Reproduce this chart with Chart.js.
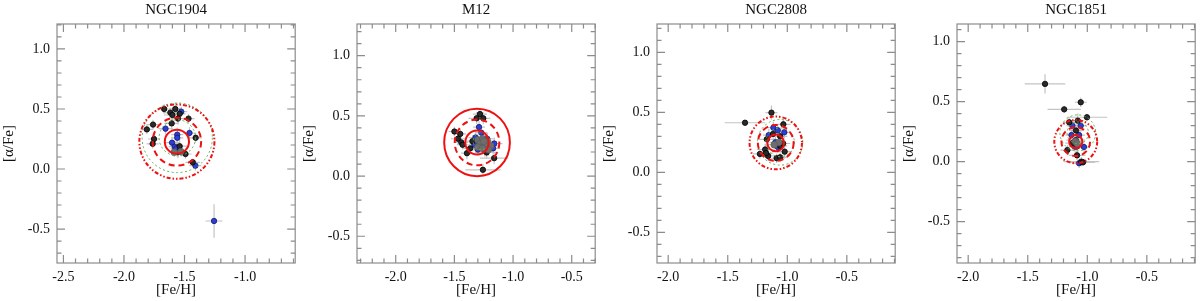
<!DOCTYPE html>
<html>
<head>
<meta charset="utf-8">
<script src="https://cdn.jsdelivr.net/npm/chart.js@4.4.1/dist/chart.umd.min.js"></script>
<style>
    html, body { margin: 0; padding: 0; background: #fff; }
    .row { display: flex; width: 1200px; height: 301px; }
    .panel { width: 300px; height: 301px; }
</style>
</head>
<body>
<div class="row">
    <div class="panel"><canvas id="c0" width="300" height="301"></canvas></div>
    <div class="panel"><canvas id="c1" width="300" height="301"></canvas></div>
    <div class="panel"><canvas id="c2" width="300" height="301"></canvas></div>
    <div class="panel"><canvas id="c3" width="300" height="301"></canvas></div>
</div>
<script>
// --- данные ---
const clusterNames = ['NGC1904', 'M12', 'NGC2808', 'NGC1851'];
const xTicksWide = [-2.5, -2.0, -1.5, -1.0];
const xTicksNarrow = [-2.0, -1.5, -1.0, -0.5];
const yTickValues = [-0.5, 0.0, 0.5, 1.0];

// [Fe/H], [α/Fe], ошибка [Fe/H], ошибка [α/Fe]
const ngc1904Black = [
    [-1.668, 0.50, 0.06, 0.04], [-1.576, 0.50, 0.05, 0.05], [-1.617, 0.47, 0.06, 0.04],
    [-1.540, 0.46, 0.05, 0.05], [-1.600, 0.45, 0.07, 0.06], [-1.467, 0.42, 0.05, 0.04],
    [-1.554, 0.42, 0.06, 0.05], [-1.606, 0.38, 0.06, 0.06], [-1.760, 0.37, 0.05, 0.04],
    [-1.811, 0.33, 0.05, 0.04], [-1.408, 0.26, 0.05, 0.04], [-1.752, 0.25, 0.05, 0.04],
    [-1.763, 0.21, 0.05, 0.04], [-1.540, 0.19, 0.06, 0.06], [-1.554, 0.14, 0.06, 0.05],
    [-1.492, 0.125, 0.05, 0.04], [-1.432, 0.056, 0.06, 0.03]
];
const ngc1904Blue = [
    [-1.527, 0.478, 0.05, 0.04], [-1.657, 0.336, 0.06, 0.05], [-1.459, 0.30, 0.05, 0.05],
    [-1.560, 0.286, 0.05, 0.06], [-1.560, 0.26, 0.05, 0.05], [-1.603, 0.219, 0.06, 0.05],
    [-1.581, 0.186, 0.05, 0.05], [-1.567, 0.172, 0.05, 0.05], [-1.410, 0.028, 0.05, 0.04],
    [-1.256, -0.433, 0.07, 0.14]
];
const ngc1904Gray = [[-1.585, 0.14, 0.05, 0.04], [-1.53, 0.145, 0.05, 0.04]];
const ngc1904Center = [-1.563, 0.228];
const ngc1904RedRadii = [0.10, 0.20, 0.31];
const ngc1904GreenCenter = [-1.56, 0.26];
const ngc1904GreenRadii = [0.15, 0.29];

const m12Black = [
    [-1.282, 0.515, 0.06, 0.05], [-1.310, 0.48, 0.07, 0.05], [-1.254, 0.48, 0.06, 0.05],
    [-1.500, 0.37, 0.05, 0.04], [-1.450, 0.35, 0.05, 0.04], [-1.470, 0.31, 0.06, 0.05],
    [-1.441, 0.28, 0.06, 0.04], [-1.430, 0.26, 0.05, 0.04], [-1.346, 0.29, 0.05, 0.05],
    [-1.366, 0.23, 0.06, 0.05], [-1.393, 0.19, 0.05, 0.05], [-1.225, 0.196, 0.10, 0.05],
    [-1.161, 0.149, 0.12, 0.05], [-1.257, 0.052, 0.15, 0.05]
];
const m12Blue = [
    [-1.290, 0.407, 0.05, 0.05], [-1.270, 0.36, 0.05, 0.05], [-1.320, 0.32, 0.06, 0.05],
    [-1.220, 0.31, 0.06, 0.05], [-1.160, 0.27, 0.07, 0.05], [-1.170, 0.23, 0.06, 0.05],
    [-1.240, 0.21, 0.06, 0.05], [-1.300, 0.22, 0.06, 0.05], [-1.330, 0.26, 0.05, 0.05]
];
const m12Gray = [
    [-1.30, 0.30, 0.06, 0.05], [-1.26, 0.31, 0.06, 0.05], [-1.22, 0.29, 0.06, 0.05],
    [-1.28, 0.27, 0.06, 0.05], [-1.24, 0.26, 0.06, 0.05], [-1.19, 0.25, 0.06, 0.05],
    [-1.30, 0.24, 0.06, 0.05], [-1.26, 0.23, 0.06, 0.05], [-1.21, 0.22, 0.06, 0.05],
    [-1.25, 0.29, 0.06, 0.05]
];
const m12Center = [-1.307, 0.279];
const m12RedRadii = [0.10, 0.19, 0.28];
const m12GreenCenter = [-1.27, 0.29];
const m12GreenRadii = [0.07];

const ngc2808Black = [
    [-1.355, 0.413, 0.17, 0.02], [-1.133, 0.497, 0.05, 0.06], [-1.033, 0.40, 0.06, 0.05],
    [-1.172, 0.275, 0.08, 0.05], [-1.060, 0.22, 0.06, 0.05], [-1.035, 0.24, 0.06, 0.05],
    [-1.186, 0.19, 0.07, 0.05], [-1.230, 0.153, 0.06, 0.04], [-1.161, 0.136, 0.06, 0.04],
    [-1.089, 0.117, 0.07, 0.04], [-1.060, 0.125, 0.06, 0.04], [-1.022, 0.172, 0.06, 0.05],
    [-1.178, 0.16, 0.06, 0.04], [-1.060, 0.30, 0.06, 0.05], [-1.120, 0.32, 0.06, 0.05]
];
const ngc2808Blue = [
    [-1.117, 0.372, 0.05, 0.05], [-1.080, 0.35, 0.05, 0.05], [-1.025, 0.333, 0.05, 0.05],
    [-1.155, 0.31, 0.05, 0.05], [-1.080, 0.21, 0.05, 0.05], [-1.100, 0.25, 0.05, 0.05]
];
const ngc2808Gray = [[-1.07, 0.25, 0.05, 0.05], [-1.11, 0.23, 0.05, 0.05]];
const ngc2808Center = [-1.097, 0.245];
const ngc2808RedRadii = [0.07, 0.15, 0.22];
const ngc2808GreenCenter = [-1.06, 0.25];
const ngc2808GreenRadii = [0.12, 0.19];

const ngc1851Black = [
    [-1.355, 0.648, 0.17, 0.08], [-1.055, 0.495, 0.05, 0.04], [-1.194, 0.436, 0.14, 0.03],
    [-1.003, 0.37, 0.17, 0.03], [-1.152, 0.328, 0.05, 0.04], [-1.080, 0.342, 0.05, 0.06],
    [-1.095, 0.26, 0.06, 0.06], [-1.097, 0.18, 0.08, 0.05], [-1.125, 0.155, 0.06, 0.05],
    [-1.086, 0.127, 0.07, 0.05], [-1.167, 0.097, 0.06, 0.04], [-1.086, 0.053, 0.07, 0.04],
    [-1.050, 0.0, 0.15, 0.04], [-1.036, -0.005, 0.10, 0.03]
];
const ngc1851Blue = [
    [-1.055, 0.30, 0.05, 0.05], [-1.125, 0.30, 0.05, 0.05], [-1.133, 0.222, 0.05, 0.05],
    [-1.069, 0.222, 0.05, 0.05], [-1.103, 0.125, 0.05, 0.05], [-1.028, 0.122, 0.05, 0.05],
    [-1.069, -0.013, 0.05, 0.04]
];
const ngc1851Gray = [[-1.10, 0.17, 0.05, 0.04], [-1.085, 0.15, 0.05, 0.04]];
const ngc1851Center = [-1.097, 0.167];
const ngc1851RedRadii = [0.055, 0.12, 0.18];
const ngc1851GreenCenter = [-1.08, 0.24];
const ngc1851GreenRadii = [0.09, 0.15];

// стиль колец: внутреннее, среднее, внешнее
const ringsSolidDashDot = ['solid', 'dash', 'dashdot'];
const ringsSolidDashSolid = ['solid', 'dash', 'solid'];

const panels = [
    { black: ngc1904Black, blue: ngc1904Blue, gray: ngc1904Gray, center: ngc1904Center, red: ngc1904RedRadii, rings: ringsSolidDashDot,
      gCenter: ngc1904GreenCenter, green: ngc1904GreenRadii, xt: xTicksWide, x: [-2.553, -0.586], y: [-0.783, 1.208] },
    { black: m12Black, blue: m12Blue, gray: m12Gray, center: m12Center, red: m12RedRadii, rings: ringsSolidDashSolid,
      gCenter: m12GreenCenter, green: m12GreenRadii, xt: xTicksNarrow, x: [-2.33, -0.30], y: [-0.722, 1.263] },
    { black: ngc2808Black, blue: ngc2808Blue, gray: ngc2808Gray, center: ngc2808Center, red: ngc2808RedRadii, rings: ringsSolidDashDot,
      gCenter: ngc2808GreenCenter, green: ngc2808GreenRadii, xt: xTicksNarrow, x: [-2.094, -0.094], y: [-0.756, 1.236] },
    { black: ngc1851Black, blue: ngc1851Blue, gray: ngc1851Gray, center: ngc1851Center, red: ngc1851RedRadii, rings: ringsSolidDashDot,
      gCenter: ngc1851GreenCenter, green: ngc1851GreenRadii, xt: xTicksNarrow, x: [-2.094, -0.094], y: [-0.844, 1.147] }
];

const serif = '"Liberation Serif", "DejaVu Serif", serif';
const frameColor = '#8c8c8c';
const dashes = { solid: [], dash: [6, 4], dashdot: [4, 2, 1.5, 2, 1.5, 2] };

const toPoints = arr => arr.map(p => ({ x: p[0], y: p[1], ex: p[2], ey: p[3] }));

// ошибки, кольца, рамка и засечки
const decorPlugin = {
    id: 'decor',
    beforeDatasetsDraw(chart) {
        const { ctx, scales: { x, y } } = chart;
        ctx.save();
        ctx.strokeStyle = '#c4c4c4';
        ctx.lineWidth = 1.2;
        chart.data.datasets.forEach(ds => {
            ds.data.forEach(p => {
                ctx.beginPath();
                ctx.moveTo(x.getPixelForValue(p.x - p.ex), y.getPixelForValue(p.y));
                ctx.lineTo(x.getPixelForValue(p.x + p.ex), y.getPixelForValue(p.y));
                ctx.moveTo(x.getPixelForValue(p.x), y.getPixelForValue(p.y - p.ey));
                ctx.lineTo(x.getPixelForValue(p.x), y.getPixelForValue(p.y + p.ey));
                ctx.stroke();
            });
        });
        ctx.restore();
    },
    afterDatasetsDraw(chart, args, opts) {
        const { ctx, chartArea: a, scales: { x, y } } = chart;
        const cfg = opts.cfg;
        const ring = (c, r) => {
            const cx = x.getPixelForValue(c[0]), cy = y.getPixelForValue(c[1]);
            const rx = Math.abs(x.getPixelForValue(c[0] + r) - cx);
            const ry = Math.abs(y.getPixelForValue(c[1] + r) - cy);
            ctx.beginPath();
            ctx.ellipse(cx, cy, rx, ry, 0, 0, Math.PI * 2);
            ctx.stroke();
        };
        ctx.save();
        ctx.strokeStyle = '#5cae5c';
        ctx.lineWidth = 1;
        ctx.setLineDash([2, 2.5]);
        cfg.green.forEach(r => ring(cfg.gCenter, r));
        ctx.strokeStyle = '#ee1111';
        ctx.lineWidth = 2;
        cfg.red.forEach((r, i) => { ctx.setLineDash(dashes[cfg.rings[i]]); ring(cfg.center, r); });
        ctx.setLineDash([]);

        // рамка
        ctx.strokeStyle = frameColor;
        ctx.lineWidth = 1.2;
        ctx.strokeRect(a.left, a.top, a.right - a.left, a.bottom - a.top);

        // засечки внутрь
        ctx.beginPath();
        const xTick = (v, len) => {
            const px = x.getPixelForValue(v);
            ctx.moveTo(px, a.bottom); ctx.lineTo(px, a.bottom - len);
            ctx.moveTo(px, a.top); ctx.lineTo(px, a.top + len);
        };
        const yTick = (v, len) => {
            const py = y.getPixelForValue(v);
            ctx.moveTo(a.left, py); ctx.lineTo(a.left + len, py);
            ctx.moveTo(a.right, py); ctx.lineTo(a.right - len, py);
        };
        for (let k = Math.ceil(x.min * 10); k <= Math.floor(x.max * 10); k++) xTick(k / 10, k % 5 === 0 ? 8 : 4.5);
        for (let k = Math.ceil(y.min * 10); k <= Math.floor(y.max * 10); k++) yTick(k / 10, k % 5 === 0 ? 8 : 4.5);
        ctx.stroke();
        ctx.restore();
    }
};

panels.forEach((cfg, i) => {
    new Chart(document.getElementById('c' + i), {
        type: 'scatter',
        data: {
            datasets: [
                { data: toPoints(cfg.gray), backgroundColor: '#6e6e6e', borderColor: '#555', borderWidth: 0.5, pointRadius: 3.4 },
                { data: toPoints(cfg.black), backgroundColor: '#2a2a2a', borderColor: '#000', borderWidth: 0.8, pointRadius: 2.7 },
                { data: toPoints(cfg.blue), backgroundColor: '#2b3fd6', borderColor: '#151570', borderWidth: 0.8, pointRadius: 2.7 }
            ]
        },
        options: {
            responsive: false,
            animation: false,
            devicePixelRatio: 1,
            layout: { padding: 0 },
            plugins: {
                legend: { display: false },
                tooltip: { enabled: false },
                decor: { cfg: cfg }
            },
            scales: {
                x: {
                    type: 'linear', position: 'bottom', min: cfg.x[0], max: cfg.x[1],
                    afterBuildTicks: s => { s.ticks = cfg.xt.map(v => ({ value: v })); },
                    afterFit: s => { s.height = 38; },
                    grid: { display: false, drawTicks: false },
                    border: { display: false },
                    ticks: { font: { family: serif, size: 14 }, color: '#111', padding: 6, maxRotation: 0, autoSkip: false,
                             callback: v => v.toFixed(1) },
                    title: { display: true, text: '[Fe/H]', font: { family: serif, size: 15 }, color: '#111', padding: { top: 0, bottom: 2 } }
                },
                y: {
                    type: 'linear', position: 'left', min: cfg.y[0], max: cfg.y[1],
                    afterBuildTicks: s => { s.ticks = yTickValues.map(v => ({ value: v })); },
                    afterFit: s => { s.width = 57; },
                    grid: { display: false, drawTicks: false },
                    border: { display: false },
                    ticks: { font: { family: serif, size: 14 }, color: '#111', padding: 7, autoSkip: false,
                             callback: v => v.toFixed(1) },
                    title: { display: true, text: '[α/Fe]', font: { family: serif, size: 15 }, color: '#111', padding: { top: 0, bottom: 0 } }
                },
                top: {
                    type: 'linear', axis: 'x', position: 'top', min: 0, max: 1,
                    afterFit: s => { s.height = 24; },
                    grid: { display: false, drawTicks: false },
                    border: { display: false },
                    ticks: { display: false },
                    title: { display: true, text: clusterNames[i], font: { family: serif, size: 15 }, color: '#111', padding: { top: 1, bottom: 0 } }
                }
            }
        },
        plugins: [decorPlugin]
    });
});
</script>
</body>
</html>
